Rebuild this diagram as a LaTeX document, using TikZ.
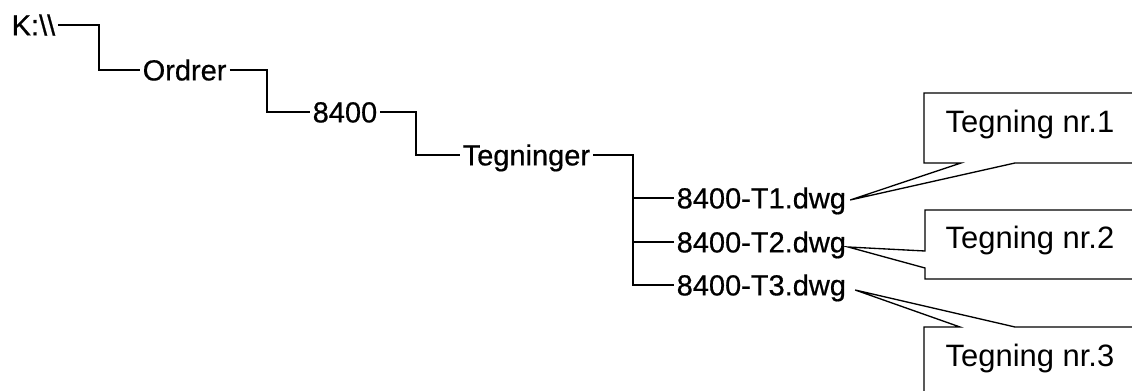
\documentclass[tikz,border=0pt]{standalone}
\usepackage{fontspec}
\setmainfont{Liberation Sans}
\begin{document}
\begin{tikzpicture}[x=0.75pt,y=-0.75pt,line width=1pt,
  item/.style={anchor=west,inner xsep=1.9pt,inner ysep=0pt,text height=15.6pt,text depth=0pt,font=\fontsize{21.75}{26}\selectfont\addfontfeature{FakeBold=0.6}},
  note/.style={anchor=base west,inner sep=0pt,font=\fontsize{23.2}{28}\selectfont}]
\useasboundingbox (0,0) rectangle (1132,391);
\clip (0,0) rectangle (1132,391);
% tree nodes
\node[item] (K)  at (8.5,25)   {K:\textbackslash\textbackslash};
\node[item] (O)  at (139.5,70) {Ordrer};
\node[item] (N)  at (309.5,112) {8400};
\node[item] (Tg) at (459.5,155) {Tegninger};
\node[item] (T1) at (673.5,198) {8400-T1.dwg};
\node[item] (T2) at (673.5,242) {8400-T2.dwg};
\node[item] (T3) at (673.5,285) {8400-T3.dwg};
% elbow coordinates
\coordinate (b1) at (99,70);
\coordinate (b2) at (267,112);
\coordinate (b3) at (416,155);
\coordinate (b4) at (633,285);
\coordinate (b5) at (633,198);
\coordinate (b6) at (633,242);
% connectors
\draw (K.east) -| (b1) -- (O.west);
\draw (O.east) -| (b2) -- (N.west);
\draw (N.east) -| (b3) -- (Tg.west);
\draw (Tg.east) -| (b4) -- (T3.west);
\draw (b5) -- (T1.west);
\draw (b6) -- (T2.west);
% callout texts
\node[note] (c1) at (945,133) {Tegning nr.1};
\node[note] (c2) at (945,249) {Tegning nr.2};
\node[note] (c3) at (945,367) {Tegning nr.3};
% callout tips
\coordinate (p1) at ([shift={(1,2)}]T1.east);
\coordinate (p2) at ([shift={(-1,5)}]T2.east);
\coordinate (p3) at ([shift={(6,5)}]T3.east);
% callout frames
\draw (1140,93) -- (924,93) -- (924,163) -- (961,163) -- (p1) -- (1015,163) -- (1140,163);
\draw (1140,210) -- (925,210) -- (925,251) -- (p2) -- (925,268) -- (925,279) -- (1140,279);
\draw (1140,327) -- (1015,327) -- (p3) -- (960,327) -- (924,327) -- (924,400);
\end{tikzpicture}
\end{document}
